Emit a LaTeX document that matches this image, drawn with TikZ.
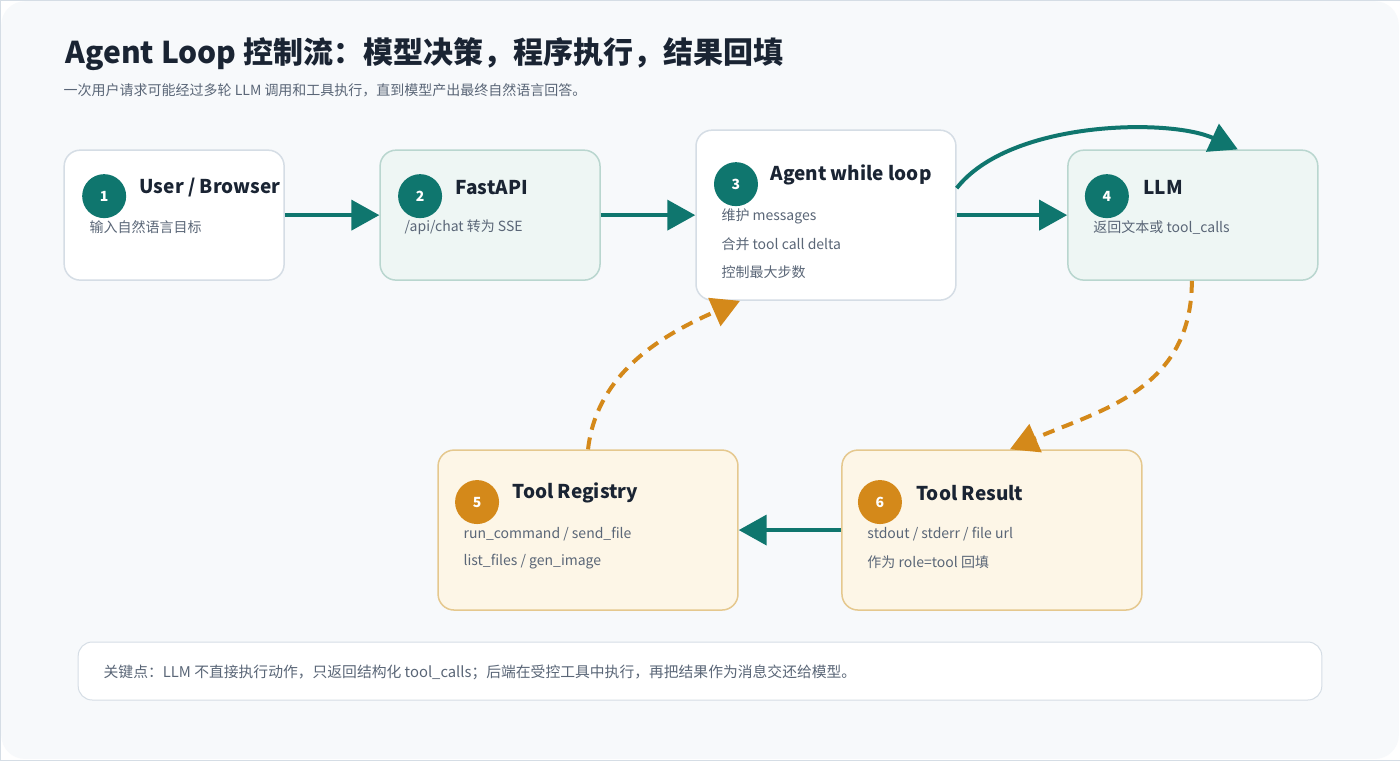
\documentclass[tikz,border=0pt]{standalone}
\usepackage{fontspec}
\setmainfont{Noto Sans CJK SC}
\usetikzlibrary{arrows.meta,positioning}
\definecolor{teal}{HTML}{0F766E}
\definecolor{amber}{HTML}{D4891A}
\definecolor{ink}{HTML}{1A2433}
\definecolor{muted}{HTML}{5A6677}
\definecolor{edge}{HTML}{D5DDE5}
\definecolor{mint}{HTML}{EEF6F4}
\definecolor{mintedge}{HTML}{B9D6CF}
\definecolor{cream}{HTML}{FDF6E7}
\definecolor{creamedge}{HTML}{E5C88E}
\tikzset{%
    card/.style={%
        draw=edge, line width=1.5pt, rounded corners=16pt, fill=white
    },
    mintcard/.style={%
        card, draw=mintedge, fill=mint
    },
    toolcard/.style={%
        card, draw=creamedge, fill=cream
    },
    badge/.style={%
        circle, fill=#1, text=white, minimum size=44pt, inner sep=0pt, font=\fontsize{14}{14}\selectfont\bfseries
    },
    head/.style={%
        anchor=west, text=ink, font=\fontsize{19}{19}\selectfont\bfseries
    },
    desc/.style={%
        anchor=west, text=muted, font=\fontsize{14}{14}\selectfont
    },
    flow/.style={%
        draw=teal, line width=4pt, -{Triangle[length=28pt,width=30pt]}
    },
    back/.style={%
        draw=amber, line width=4pt, dash pattern=on 12pt off 8pt, -{Triangle[length=28pt,width=30pt]}
    },
}
\begin{document}
\begin{tikzpicture}[x=1pt,y=-1pt]

    \draw[draw=edge, fill=white] (0,0) rectangle (1400,760);
    \fill[fill={rgb,255:red,247;green,249;blue,251}, rounded corners=24pt] (1,1) rectangle (1399,759);
    \useasboundingbox (0,0) rectangle (1400,760);

    \node[anchor=west, text=ink, font=\fontsize{30}{30}\selectfont\bfseries] (title) at (62,54) {Agent Loop 控制流：模型决策，程序执行，结果回填};
    \node[desc, font=\fontsize{14}{14}\selectfont] (subtitle) at (60,90) {一次用户请求可能经过多轮 LLM 调用和工具执行，直到模型产出最终自然语言回答。};

    % boxes
    \node[card, minimum width=220pt, minimum height=130pt] (user) at (174,215) {};
    \node[mintcard, minimum width=220pt, minimum height=130pt] (api) at (490,215) {};
    \node[card, minimum width=260pt, minimum height=170pt] (loop) at (826,215) {};
    \node[mintcard, minimum width=250pt, minimum height=130pt] (llm) at (1193,215) {};
    \node[toolcard, minimum width=300pt, minimum height=160pt] (registry) at (588,530) {};
    \node[toolcard, minimum width=300pt, minimum height=160pt] (result) at (992,530) {};

    % box contents
    \node[badge=teal] (b1) at (104,196) {1};
    \node[head] at (136,187) {User / Browser};
    \node[desc] at (86,227) {输入自然语言目标};

    \node[badge=teal] (b2) at (420,196) {2};
    \node[head] at (452,187) {FastAPI};
    \node[desc] at (401,227) {/api/chat 转为 SSE};

    \node[badge=teal] (b3) at (736,184) {3};
    \node[head] at (767,175) {Agent while loop};
    \node[desc] at (718,216) {维护 messages};
    \node[desc] at (718,244) {合并 tool call delta};
    \node[desc] at (718,272) {控制最大步数};

    \node[badge=teal] (b4) at (1107,196) {4};
    \node[head] at (1140,187) {LLM};
    \node[desc] at (1090,227) {返回文本或 tool\_calls};

    \node[badge=amber] (b5) at (477,502) {5};
    \node[head] at (509,493) {Tool Registry};
    \node[desc] at (460,534) {run\_command / send\_file};
    \node[desc] at (460,562) {list\_files / gen\_image};

    \node[badge=amber] (b6) at (880,502) {6};
    \node[head] at (913,493) {Tool Result};
    \node[desc] at (864,534) {stdout / stderr / file url};
    \node[desc] at (864,562) {作为 role=tool 回填};

    % connectors
    \draw[flow] (user) -- (api);
    \draw[flow] (api) -- (loop);
    \draw[flow] (loop) -- (llm);
    \draw[flow] (loop.east |- 0,188) .. controls (1010,120) and (1170,118) .. ([xshift=45pt]llm.north);
    \draw[back] ([xshift=-1pt]llm.south) .. controls (1192,390) and (1100,410) .. ([xshift=18pt]result.north);
    \draw[flow] (result) -- (registry);
    \draw[back] (registry.north) .. controls (596,380) and (650,340) .. ([xshift=-86pt]loop.south);

    % note
    \node[card, draw=edge, line width=1pt, rounded corners=14pt, minimum width=1244pt, minimum height=58pt] (note) at (700,671) {};
    \node[desc, font=\fontsize{14.8}{14.8}\selectfont] at (100,672) {关键点：LLM 不直接执行动作，只返回结构化 tool\_calls；后端在受控工具中执行，再把结果作为消息交还给模型。};

\end{tikzpicture}
\end{document}
